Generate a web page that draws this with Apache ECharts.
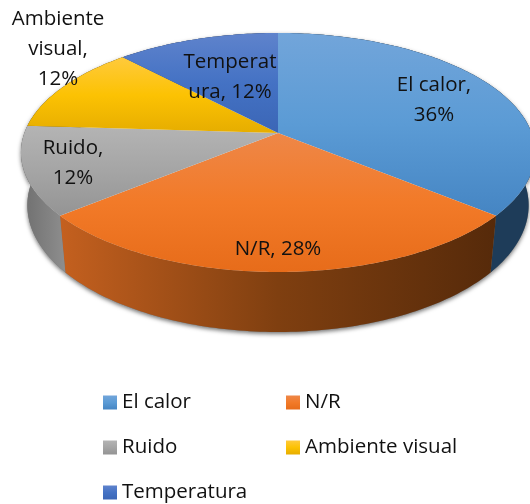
<!DOCTYPE html>
<html>
<head>
<meta charset="utf-8">
<style>html,body{margin:0;padding:0;background:#fff}#c{width:530px;height:504px}</style>
<script src="https://cdn.jsdelivr.net/npm/echarts@6/dist/echarts.min.js"></script>
</head>
<body>
<div id="c"></div>
<script>
// ---- data ----
const categories = ['El calor', 'N/R', 'Ruido', 'Ambiente visual', 'Temperatura'];
const percents = [36, 28, 12, 12, 12];
const labelLines = ['El calor,\n36%', 'N/R, 28%', 'Ruido,\n12%', 'Ambiente\nvisual,\n12%', 'Temperat\nura, 12%'];

// ---- styling ----
const FONT = '"Open Sans"';
const FONT_SIZE = 20.5;
const labelAnchors = [[434, 100], [278, 249], [73, 163], [58, 49], [230, 77]];
const topStops = [
  ['#72a5da', '#5b9bd5', '#4585c3'],
  ['#ee8748', '#f27a28', '#e76c1a'],
  ['#b4b4b4', '#a5a5a5', '#949494'],
  ['#ffca3c', '#fcc203', '#e6ad00'],
  ['#5f83cc', '#4472c4', '#3b66b6']
];
const sideStops = [
  ['#1e3c59', '#1e3c59'],
  ['#c4601f', '#7f3f10', '#562a0a'],
  ['#6e6e6e', '#8e8e8e'],
  ['#7f6000', '#7f6000'],
  ['#2a4577', '#2a4577']
];
// projective mapping of the unit pie disc onto the tilted 3D plate
const P = {cx: 278, cy: 133, A: 253.6, B: 116.3, k: 0.163, sx: 0.975, sy: 1.06, by: 184.7};

function rim(frac) {
  const a = frac * 2 * Math.PI, u = Math.sin(a), v = -Math.cos(a), w = 1 - P.k * v;
  return [P.cx + P.A * u / w, P.cy + P.B * v / w];
}
function lower(p) {
  return [P.cx + P.sx * (p[0] - P.cx), P.by + P.sy * (p[1] - P.cy)];
}
function grad(stops, horizontal) {
  return new echarts.graphic.LinearGradient(0, 0, horizontal ? 1 : 0, horizontal ? 0 : 1,
    stops.map((c, i) => ({offset: i / (stops.length - 1), color: c})));
}
const total = percents.reduce((a, b) => a + b, 0);

function renderSlice(params, api) {
  const i = params.seriesIndex;
  const start = percents.slice(0, i).reduce((a, b) => a + b, 0) / total;
  const end = start + api.value(0) / total;
  const arc = [];
  const n = Math.max(8, Math.round((end - start) * 360));
  for (let s = 0; s <= n; s++) arc.push(rim(start + (end - start) * s / n));
  const low = arc.map(lower).reverse();
  const side = arc.concat(low);
  return {
    type: 'group',
    children: [
      {type: 'polygon', z2: 0, shape: {points: side},
        style: {fill: '#777', shadowColor: 'rgba(0,0,0,0.55)', shadowBlur: 4, shadowOffsetY: 2}},
      {type: 'polygon', z2: 1, shape: {points: side}, style: {fill: grad(sideStops[i], true)}},
      {type: 'polygon', z2: 2, shape: {points: [[P.cx, P.cy]].concat(arc)},
        style: {fill: grad(topStops[i], false)}},
      {type: 'text', z2: 3, x: labelAnchors[i][0], y: labelAnchors[i][1],
        style: {text: labelLines[i], font: FONT_SIZE + 'px ' + FONT, fill: '#111',
          align: 'center', verticalAlign: 'middle', lineHeight: 30}}
    ]
  };
}

const legendBase = {
  orient: 'vertical', selectedMode: false, icon: 'rect', itemWidth: 14, itemHeight: 14,
  itemGap: 24, padding: 0, textStyle: {fontFamily: 'Open Sans', fontSize: FONT_SIZE, color: '#111', padding: [0, 0, 0, 0]}
};

const chart = echarts.init(document.getElementById('c'), null, {renderer: 'canvas'});
chart.setOption({
  animation: false,
  backgroundColor: '#fff',
  tooltip: {show: false},
  legend: [
    Object.assign({}, legendBase, {left: 103, top: 392, data: [categories[0], categories[2], categories[4]]}),
    Object.assign({}, legendBase, {left: 286, top: 392, data: [categories[1], categories[3]]})
  ],
  series: categories.map((name, i) => ({
    type: 'custom',
    name: name,
    coordinateSystem: 'none',
    renderItem: renderSlice,
    silent: true,
    itemStyle: {color: grad(topStops[i], false)},
    data: [[percents[i]]]
  }))
});
</script>
</body>
</html>
